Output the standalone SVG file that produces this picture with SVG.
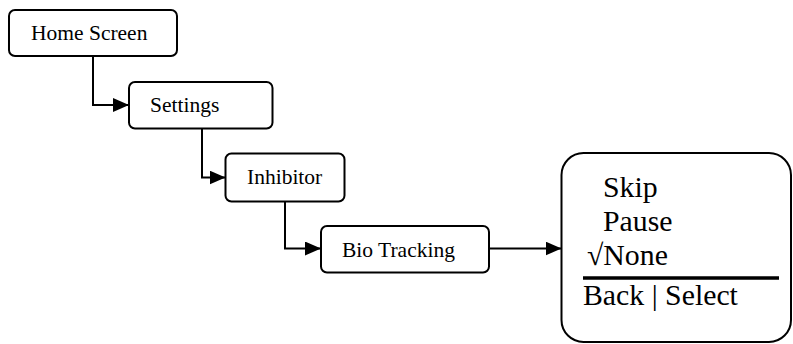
<svg xmlns="http://www.w3.org/2000/svg" width="793" height="344" viewBox="0 0 793 344">
<style>
.box{fill:#fff;stroke:#000;stroke-width:2}
.lbl{font-family:"Liberation Serif","Times New Roman",serif;font-size:21.5px;fill:#000}
.menu{font-family:"Liberation Serif","Times New Roman","DejaVu Serif",serif;font-size:29.8px;fill:#000}
.conn{fill:none;stroke:#000;stroke-width:2}
</style>
<defs>
<marker id="arr" viewBox="0 0 16 14" refX="16" refY="7" markerWidth="16" markerHeight="14" markerUnits="userSpaceOnUse" orient="auto">
<path d="M0,0 L16,7 L0,14 Z" fill="#000"/>
</marker>
</defs>
<rect width="793" height="344" fill="#fff"/>
<g id="connectors">
<path class="conn" d="M93,56 V105 H129" marker-end="url(#arr)"/>
<path class="conn" d="M202,128.5 V177.5 H225.5" marker-end="url(#arr)"/>
<path class="conn" d="M285,201.5 V248.5 H321" marker-end="url(#arr)"/>
<path class="conn" d="M489,248.5 H561.5" marker-end="url(#arr)"/>
</g>
<g id="home">
<rect class="box" x="9" y="10" width="168" height="46" rx="6"/>
<text class="lbl" x="31" y="40">Home Screen</text>
</g>
<g id="settings">
<rect class="box" x="129" y="82" width="143.5" height="46.5" rx="6"/>
<text class="lbl" x="150" y="112">Settings</text>
</g>
<g id="inhibitor">
<rect class="box" x="225.5" y="153.5" width="119" height="48" rx="6"/>
<text class="lbl" x="247" y="184">Inhibitor</text>
</g>
<g id="biotracking">
<rect class="box" x="321" y="226" width="168" height="46.5" rx="6"/>
<text class="lbl" x="342" y="257">Bio Tracking</text>
</g>
<g id="menu">
<rect class="box" x="561.5" y="153" width="229.5" height="189" rx="22"/>
<text class="menu" x="603" y="197">Skip</text>
<text class="menu" x="603" y="231">Pause</text>
<text class="menu" x="587" y="265">√None</text>
<line x1="583" y1="278" x2="779" y2="278" stroke="#000" stroke-width="3.5"/>
<text class="menu" x="583" y="305">Back | Select</text>
</g>
</svg>
